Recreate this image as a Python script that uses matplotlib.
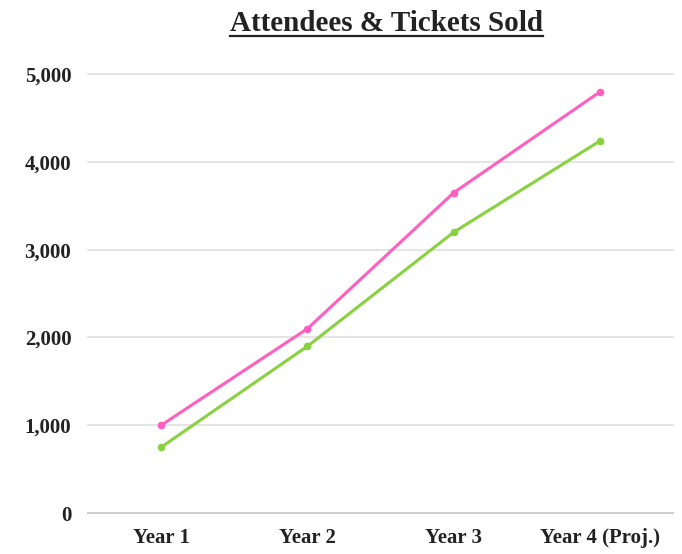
import matplotlib
matplotlib.use("Agg")
import matplotlib.pyplot as plt
from matplotlib.lines import Line2D

# values
years = ["Year 1", "Year 2", "Year 3", "Year 4 (Proj.)"]
attendees = [1000, 2100, 3650, 4800]
tickets_sold = [750, 1900, 3200, 4240]
y_ticks = [0, 1000, 2000, 3000, 4000, 5000]

plt.rcParams["font.family"] = ["Liberation Serif", "DejaVu Serif"]

fig = plt.figure(figsize=(6.82, 5.54), dpi=100)
ax = fig.add_axes([0.129, 0.074, 0.858, 0.792])

x = list(range(len(years)))
ax.plot(x, attendees, color="#ff5fc0", lw=2.2, marker="o", ms=4.5, zorder=3)
ax.plot(x, tickets_sold, color="#88d13f", lw=2.2, marker="o", ms=4.5, zorder=3)

ax.set_xlim(-0.5, 3.5)
ax.set_ylim(0, 5000)
ax.set_xticks(x)
ax.set_xticklabels(years, fontsize=15, fontweight="bold", color="#222222")
ax.set_yticks(y_ticks)
ax.set_yticklabels([f"{v:,}" for v in y_ticks], fontsize=15, fontweight="bold", color="#222222")
ax.tick_params(axis="both", length=0)
ax.tick_params(axis="x", pad=11)
ax.tick_params(axis="y", pad=12)

for sp in ["top", "right", "left"]:
    ax.spines[sp].set_visible(False)
ax.spines["bottom"].set_color("#cccccc")
ax.spines["bottom"].set_linewidth(1.3)
ax.grid(axis="y", color="#e3e3e3", lw=1.3, clip_on=False)
ax.set_axisbelow(True)

# title with an underline drawn under it
title = fig.text(0.566, 0.957, "Attendees & Tickets Sold", ha="center", va="center",
                 fontsize=21, fontweight="bold", color="#222222")
fig.canvas.draw()
bb = title.get_window_extent().transformed(fig.transFigure.inverted())
fig.add_artist(Line2D([bb.x0, bb.x1], [bb.y0 + 0.002, bb.y0 + 0.002],
                      transform=fig.transFigure, color="#222222", lw=1.6))

plt.savefig("out.png", dpi=100)
